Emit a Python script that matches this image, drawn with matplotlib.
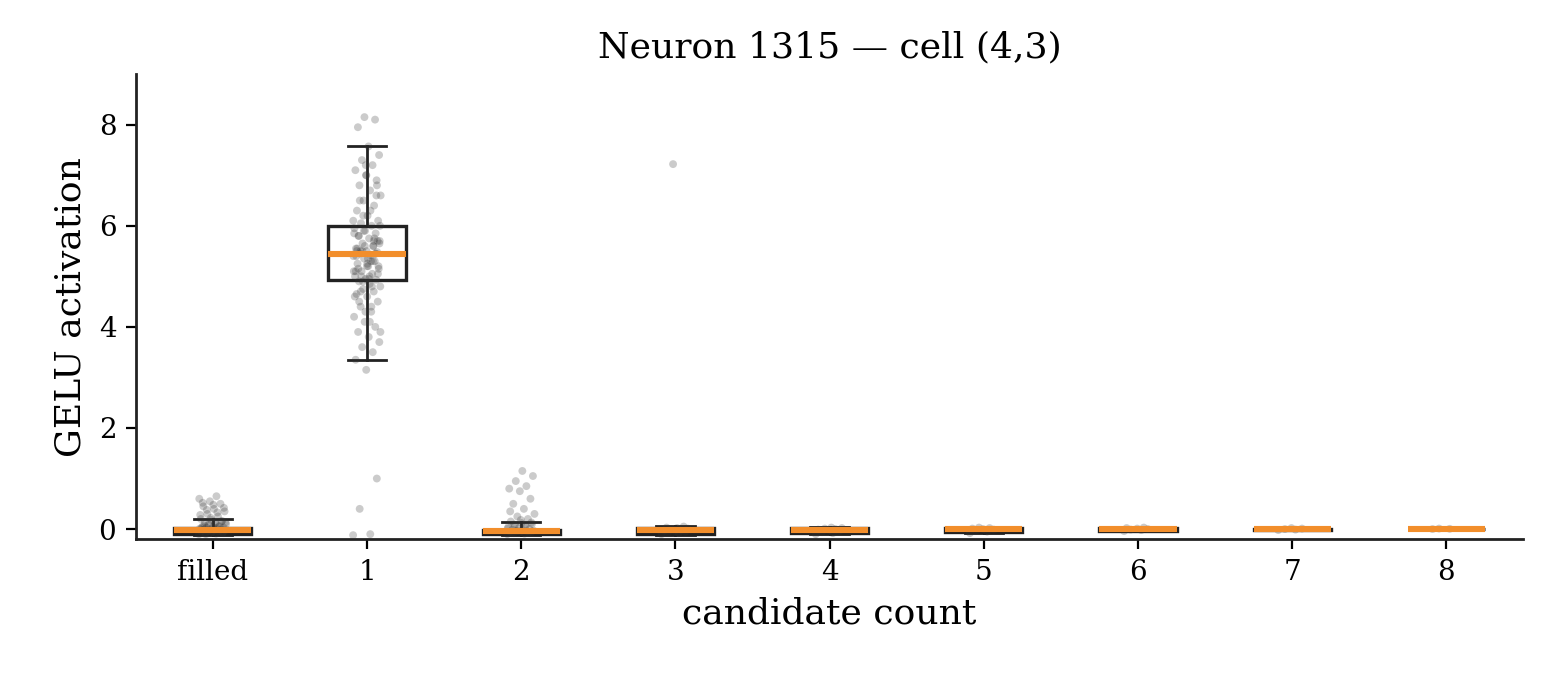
import matplotlib
matplotlib.use("Agg")
import matplotlib.pyplot as plt
import numpy as np

plt.rcParams['font.family'] = ['DejaVu Serif']

categories = ["filled", "1", "2", "3", "4", "5", "6", "7", "8"]
# box statistics
medians = [-0.02, 5.45, -0.03, -0.02, -0.01, 0.0, 0.0, 0.0, 0.0]
q1 = [-0.10, 4.93, -0.10, -0.09, -0.07, -0.05, -0.03, -0.01, 0.0]
q3 = [0.03, 6.0, -0.01, 0.02, 0.02, 0.02, 0.02, 0.01, 0.0]
whislo = [-0.12, 3.35, -0.12, -0.12, -0.10, -0.08, -0.04, -0.02, 0.0]
whishi = [0.20, 7.57, 0.14, 0.06, 0.05, 0.05, 0.05, 0.03, 0.01]

vals_filled = [-0.10, -0.09, -0.08, -0.07, -0.06, -0.05, -0.05, -0.04, -0.03, -0.02, -0.01, 0.0, 0.0, 0.01,
               0.02, 0.03, 0.03, 0.04, 0.05, 0.06, 0.08, 0.10, 0.12, 0.14, 0.16, 0.18, 0.20, 0.25, 0.30,
               0.35, 0.40, 0.45, 0.50, 0.55, 0.60, 0.65, -0.10, -0.08, -0.06, 0.02, 0.05, 0.09, 0.13,
               0.11, 0.07, 0.15, 0.22, 0.28, 0.33, 0.38, 0.42, 0.48, 0.52]
vals_1 = [-0.12, -0.10, 0.40, 1.00, 3.15, 3.35, 3.5, 3.6, 3.7, 3.8, 3.9, 4.0, 4.1, 4.2, 4.3, 4.4, 4.5,
          4.6, 4.65, 4.7, 4.75, 4.8, 4.85, 4.9, 4.93, 4.95, 5.0, 5.05, 5.1, 5.15, 5.2, 5.25, 5.3, 5.35,
          5.4, 5.42, 5.45, 5.48, 5.5, 5.55, 5.6, 5.65, 5.7, 5.75, 5.8, 5.85, 5.9, 5.95, 6.0, 6.05, 6.1,
          6.2, 6.3, 6.4, 6.5, 6.6, 6.7, 6.8, 6.9, 7.0, 7.1, 7.2, 7.3, 7.4, 7.57, 7.95, 8.10, 8.15,
          5.1, 5.3, 5.5, 5.7, 5.2, 5.4, 5.6, 4.9, 6.0, 5.0, 5.8, 5.45, 4.3, 4.6, 4.8, 5.0, 5.2, 5.35,
          5.55, 5.75, 5.9, 6.1, 6.3, 6.5, 6.8, 7.0, 5.1, 5.3, 5.5, 5.65, 4.95, 5.15, 5.45, 5.6, 5.85,
          4.4, 4.7, 5.05, 5.25, 5.5, 5.7, 6.2, 3.9, 4.1, 4.5, 6.6, 7.2]
vals_2 = [-0.10, -0.09, -0.08, -0.07, -0.06, -0.05, -0.05, -0.04, -0.03, -0.02, -0.01, 0.0,
          0.02, 0.04, 0.06, 0.08, 0.10, 0.12, 0.15, 0.20, 0.25, 0.30, 0.40, 0.50, 0.60, 0.75,
          0.80, 0.85, 0.95, 1.05, 1.15, -0.08, -0.06, -0.03, 0.01, 0.05, 0.09, 0.13, 0.18, 0.35]
vals_3 = [-0.10, -0.08, -0.07, -0.05, -0.04, -0.03, -0.02, 0.0, 0.01, 0.02, 0.03, 0.05, 7.22]
vals_4 = [-0.10, -0.08, -0.06, -0.04, -0.02, -0.01, 0.0, 0.01, 0.02, 0.03]
vals_5 = [-0.08, -0.05, -0.03, -0.01, 0.0, 0.01, 0.02, 0.03]
vals_6 = [-0.04, -0.02, -0.01, 0.0, 0.01, 0.02, 0.03]
vals_7 = [-0.02, -0.01, 0.0, 0.01, 0.02]
vals_8 = [0.0, 0.005, 0.01]
groups = [vals_filled, vals_1, vals_2, vals_3, vals_4, vals_5, vals_6, vals_7, vals_8]

fig, ax = plt.subplots(figsize=(7.71, 3.37), dpi=200)
pos = np.arange(len(categories))
stats = [dict(med=medians[i], q1=q1[i], q3=q3[i], whislo=whislo[i], whishi=whishi[i], fliers=[])
         for i in range(len(categories))]
ax.bxp(stats, positions=pos, widths=0.5, showfliers=False, patch_artist=True,
       boxprops=dict(edgecolor='#222222', facecolor='none', linewidth=1.2),
       whiskerprops=dict(color='#222222', linewidth=1.0),
       capprops=dict(color='#222222', linewidth=1.0),
       medianprops=dict(color='#f28e2b', linewidth=2.2, zorder=5))
for i, g in enumerate(groups):
    n = len(g)
    jit = ((np.arange(n) * 0.618034) % 1.0 - 0.5) * 0.18
    ax.scatter(pos[i] + jit, g, s=8, color='#333333', alpha=0.25, edgecolors='none', zorder=3)

ax.set_xticks(pos)
ax.set_xticklabels(categories, fontsize=10)
ax.set_yticks([0, 2, 4, 6, 8])
ax.tick_params(axis='y', labelsize=10)
ax.set_xlim(-0.5, 8.5)
ax.set_ylim(-0.2, 9.0)
ax.spines['top'].set_visible(False)
ax.spines['right'].set_visible(False)
for s in ('left', 'bottom'):
    ax.spines[s].set_color('#222222')
    ax.spines[s].set_linewidth(1.0)
ax.set_xlabel("candidate count", fontsize=13)
ax.set_ylabel("GELU activation", fontsize=13)
ax.set_title("Neuron 1315 — cell (4,3)", fontsize=13)
fig.subplots_adjust(left=0.088, right=0.988, top=0.89, bottom=0.2)
fig.savefig("out.png", dpi=200)
